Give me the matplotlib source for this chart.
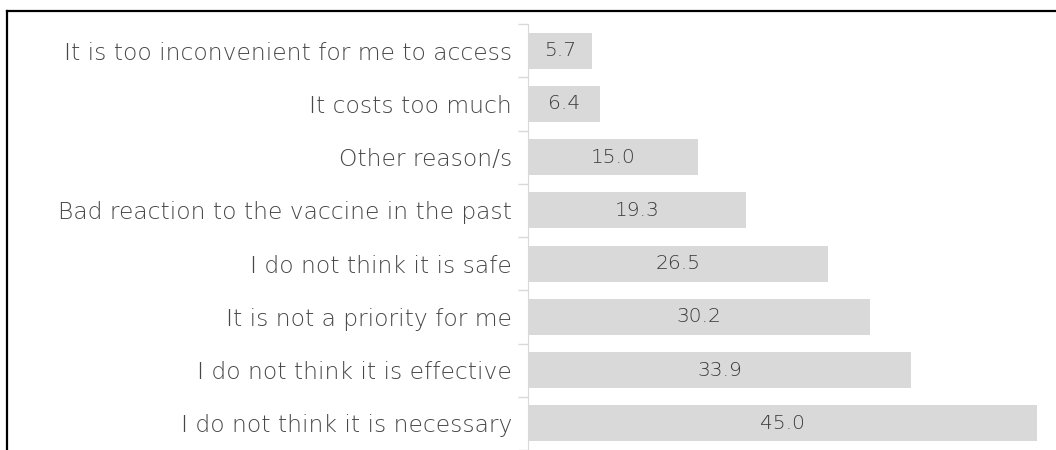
import matplotlib.pyplot as plt
from matplotlib.lines import Line2D

reasons = [
    "It is too inconvenient for me to access",
    "It costs too much",
    "Other reason/s",
    "Bad reaction to the vaccine in the past",
    "I do not think it is safe",
    "It is not a priority for me",
    "I do not think it is effective",
    "I do not think it is necessary",
]
percent = [5.7, 6.4, 15.0, 19.3, 26.5, 30.2, 33.9, 45.0]

W, H, DPI = 1056, 450, 100
FONT = "DejaVu Sans"
fig = plt.figure(figsize=(W / DPI, H / DPI), dpi=DPI)
ax = fig.add_axes([528 / W, 0.0, 1 - 528 / W, 1 - 24 / H])

ypos = list(range(len(reasons)))
ax.barh(ypos, percent, height=0.68, color="#d9d9d9")
for y, v in zip(ypos, percent):
    ax.text(v / 2, y, f"{v:.1f}", ha="center", va="center",
            fontsize=14.5, color="#3a3a3a", family=FONT, weight="light")

ax.set_xlim(0, 46.68)
ax.set_ylim(len(reasons) - 0.5, -0.5)
ax.set_yticks(ypos)
ax.set_yticklabels(reasons, fontsize=16.8, color="#474747", family=FONT, weight="light")
ax.set_yticks([i - 0.5 for i in range(len(reasons) + 1)], minor=True)
ax.tick_params(axis="y", which="major", length=0, pad=11.5)
ax.tick_params(axis="y", which="minor", length=7, color="#d9d9d9", width=1)
ax.set_xticks([])
for s in ("top", "right", "bottom"):
    ax.spines[s].set_visible(False)
ax.spines["left"].set_color("#d9d9d9")

# outer border (left and top only, as in the source)
fig.add_artist(Line2D([7 / W, 7 / W], [0, 1 - 10.5 / H], transform=fig.transFigure,
                      color="black", lw=1.6))
fig.add_artist(Line2D([7 / W, 1], [1 - 10.5 / H, 1 - 10.5 / H], transform=fig.transFigure,
                      color="black", lw=1.6))

fig.savefig("out.png", dpi=DPI)
